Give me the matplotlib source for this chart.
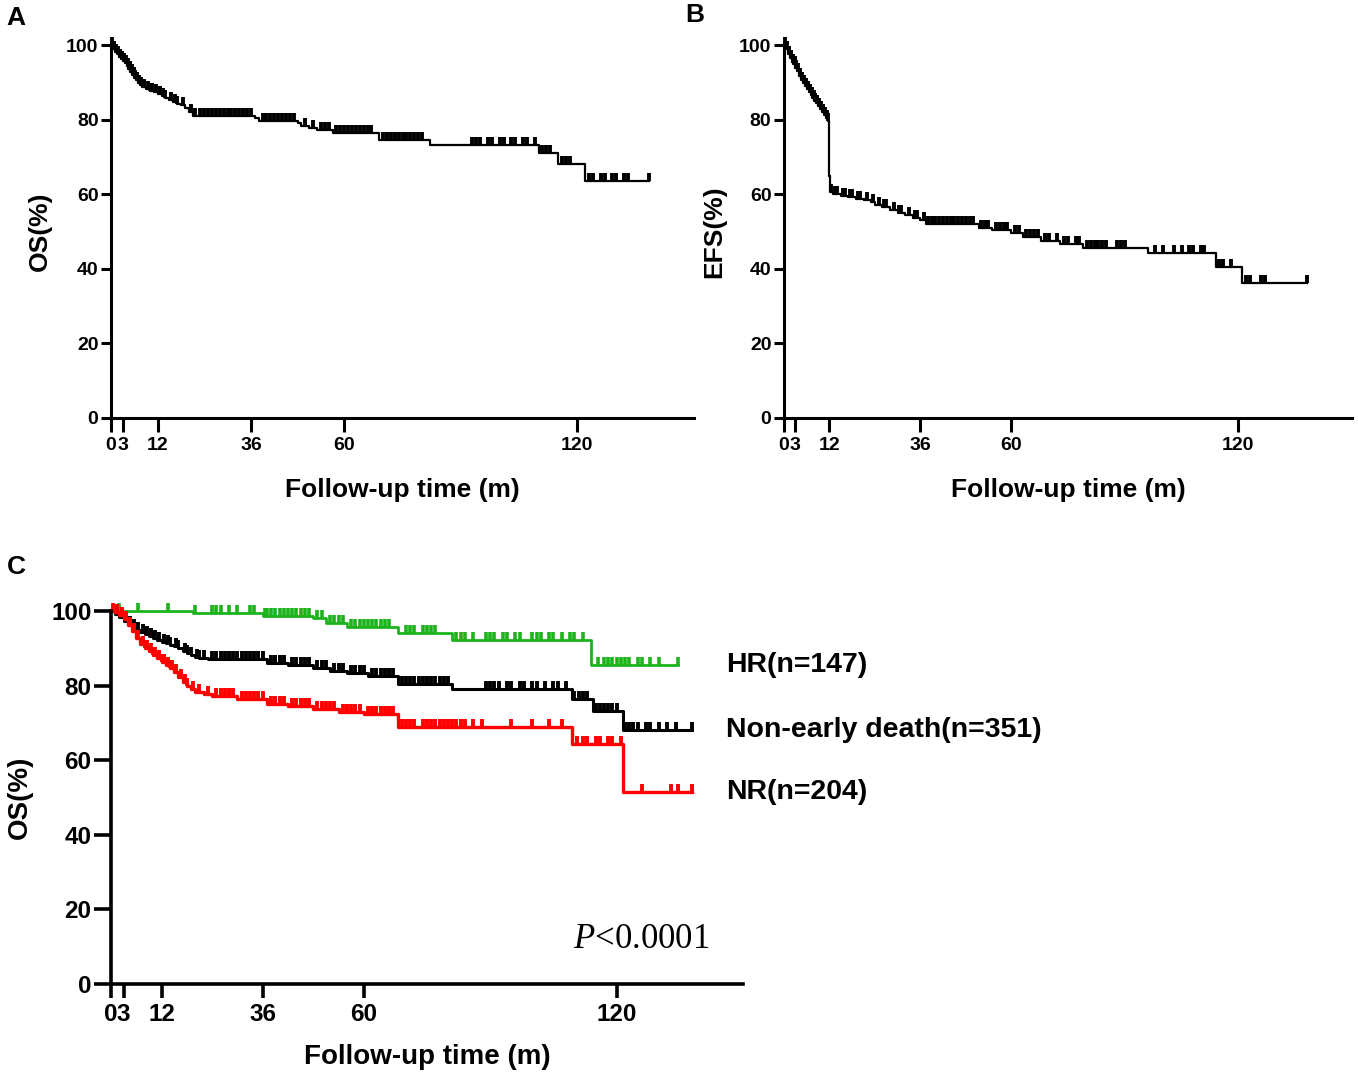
import numpy as np
import matplotlib
matplotlib.use("Agg")
import matplotlib.pyplot as plt
from matplotlib.path import Path

plt.rcParams["font.family"] = ["Liberation Sans", "DejaVu Sans"]
plt.rcParams["mathtext.fontset"] = "custom"
plt.rcParams["mathtext.it"] = "Liberation Serif:italic"
plt.rcParams["mathtext.rm"] = "Liberation Serif"

# ---- data (months, survival %) ----
x_ticks = [0, 3, 12, 36, 60, 120]
y_ticks = [0, 20, 40, 60, 80, 100]

# A: overall survival
os_t = [0, 0.5, 1, 1.5, 2, 2.5, 3, 3.5, 4, 4.5, 5, 5.5, 6, 6.5, 7, 7.5, 8, 9, 10, 11,
        12, 13, 14, 15, 16, 17, 18, 19, 20, 21, 37, 38, 48, 49, 51, 53, 57, 69, 82,
        110, 115, 122]
os_s = [100, 99.0, 98.2, 97.5, 96.9, 96.3, 95.7, 95.1, 94.4, 93.6, 92.8, 92.0, 91.2,
        90.5, 89.9, 89.3, 88.8, 88.3, 87.8, 87.3, 86.8, 86.3, 85.8, 85.3, 84.8, 84.3,
        83.8, 83.0, 82.0, 81.0, 80.3, 79.6, 79.0, 78.4, 77.8, 77.2, 76.4, 74.5, 73.3,
        71.0, 68.0, 63.5]
os_end = 138.5
os_cens = [0.3, 0.8, 1.3, 1.8, 2.3, 2.8, 3.3, 3.8, 4.3, 4.8, 5.3, 5.8, 6.3, 6.8, 7.3,
           7.8, 8.5, 9.5, 10, 10.5, 11.5, 12.5, 13.5, 14, 15.5, 16.5, 17, 18.5, 20.5,
           21.5, 23, 24, 25, 26, 27, 28, 29, 30, 31, 32, 33, 34, 35, 36,
           39, 40, 41, 42, 43, 44, 45, 46, 47, 50, 52, 54, 55, 56, 58, 59, 60, 61, 62,
           63, 64, 65, 66, 67, 70, 71, 72, 73, 74, 75, 76, 77, 78, 79, 80, 93, 94, 95,
           97, 98, 100, 101, 103, 104, 106, 107, 109, 111, 112, 113, 116, 117, 118,
           123, 124, 126, 127, 129, 130, 132, 133, 138.5]

# B: event-free survival
efs_t = [0, 0.5, 1, 1.5, 2, 2.5, 3, 3.5, 4, 4.5, 5, 5.5, 6, 6.5, 7, 7.5, 8, 8.5, 9,
         9.5, 10, 10.5, 11, 11.5, 11.9, 12.1, 13, 15, 17, 19, 21, 23, 24, 26, 28, 30,
         32, 34, 36, 37.5, 51.5, 55, 60, 63, 68, 73, 79, 96, 114, 121]
efs_s = [100, 98.8, 97.5, 96.5, 95.5, 94.8, 93.9, 92.9, 91.8, 90.7, 89.8, 89.0, 88.2,
         87.4, 86.6, 85.9, 85.1, 84.4, 83.6, 82.8, 82.0, 81.2, 80.4, 79.6, 65.0, 60.5,
         60.0, 59.6, 59.2, 58.8, 58.4, 58.0, 57.2, 56.5, 55.8, 55.0, 54.3, 53.6, 53.0,
         52.0, 51.0, 50.3, 49.6, 48.5, 47.5, 46.7, 45.6, 44.3, 40.5, 36.2]
efs_end = 138
efs_cens = [0.3, 0.8, 1.3, 1.8, 2.3, 2.8, 3.3, 3.8, 4.3, 4.8, 5.3, 5.8, 6.3, 6.8, 7.3,
            7.8, 8.3, 8.8, 9.3, 9.8, 10.3, 10.8, 11.3, 11.7,
            12.3, 13.5, 14, 15.5, 16, 17.5, 18, 19.5, 20, 22, 23.5, 25, 26.5, 27, 29,
            30.5, 31, 33, 34.5, 35, 37, 38, 39, 40, 41, 42, 43, 44, 45, 46, 47, 48, 49,
            50, 52, 53, 54, 56, 57, 58, 59, 61, 62, 64, 65, 66, 67, 69, 70, 72, 74, 75,
            77, 78, 80, 81, 82, 83, 84, 85, 88, 89, 90, 98, 100, 103, 105, 107, 108,
            110, 111, 115, 116, 118, 122, 123, 126, 127, 138]

# C: OS by group
hr_t = [0, 19.5, 36, 48, 51, 56, 68, 81, 114]
hr_s = [100, 99.5, 98.6, 98.0, 96.8, 95.7, 94.1, 92.2, 85.5]
hr_end = 134.5
hr_cens = [2, 6.5, 13.5, 20, 24, 25, 26, 28, 30, 33, 34, 36.5, 37, 38, 39, 40, 41, 42,
           43, 44, 45, 46, 47, 49, 50, 52, 53, 54, 55, 57, 58, 59, 60, 61, 62, 63, 64,
           65, 66, 70, 71, 72, 74, 75, 76, 77, 82, 83, 84, 86, 89, 90, 91, 93, 94, 96,
           97, 100, 101, 102, 104, 105, 107, 109, 110, 112, 115.5, 117, 118, 119, 120,
           121, 122, 123, 125, 126, 128, 130, 134.5]

ned_t = [0, 1, 2, 3, 4, 5, 6, 7, 8, 9, 10, 11, 12, 13, 14, 15, 16, 17, 18, 19, 20, 21,
         23, 37, 42, 48, 52, 56, 61, 68, 81, 109.5, 114.5, 121.5]
ned_s = [100, 99.2, 98.3, 97.4, 96.6, 95.8, 95.0, 94.4, 93.8, 93.3, 92.8, 92.3, 91.8,
         91.4, 91.0, 90.5, 90.0, 89.4, 88.8, 88.2, 87.7, 87.5, 87.1, 86.0, 85.5, 84.7,
         83.9, 83.3, 82.6, 80.5, 79.2, 76.5, 73.3, 68.0]
ned_end = 138
ned_cens = [1.5, 2.5, 3.5, 4.5, 5, 5.5, 6.5, 7.5, 8, 8.5, 9.5, 10, 10.5, 11.5, 12.5,
            13.5, 14, 15.5, 16, 17.5, 18, 19, 20.5, 21, 22, 24, 25, 26, 27, 28, 29, 30,
            31, 32, 33, 34, 35, 36, 38, 39, 40, 41, 43, 44, 45, 46, 47, 49, 50, 51, 53,
            54, 55, 57, 58, 59, 60, 62, 63, 64, 65, 66, 67, 69, 70, 71, 72, 73, 74, 75,
            76, 77, 78, 79, 80, 89, 90, 91, 92, 94, 95, 97, 98, 100, 101, 103, 105, 106,
            108, 110, 111, 112, 113, 115, 116, 117, 118, 119, 120, 122, 123, 124, 125,
            127, 128, 130, 132, 134, 138]

nr_t = [0, 1, 2, 3, 4, 5, 6, 7, 8, 9, 10, 11, 12, 13, 14, 15, 16, 17, 18, 19, 20, 22,
        24, 30, 37, 42, 48, 54, 60, 68, 109.5, 121.5]
nr_s = [100, 99.6, 99.0, 97.8, 96.3, 94.6, 92.8, 91.2, 90.0, 89.2, 88.2, 87.3, 86.4,
        85.6, 84.6, 83.6, 82.4, 81.0, 79.8, 79.0, 78.3, 77.8, 77.3, 76.5, 75.0, 74.6,
        73.8, 73.0, 72.3, 68.8, 64.3, 51.5]
nr_end = 138
nr_cens = [0.5, 1.5, 2.5, 3.5, 4.5, 5.5, 6.5, 7.5, 8, 8.5, 9.5, 10, 10.5, 11.5, 12,
           12.5, 13.5, 14, 14.5, 15.5, 16.5, 17.5, 18, 19.5, 21, 23, 25, 26, 27, 28,
           29, 31, 32, 33, 34, 35, 36, 38, 39, 40, 41, 43, 44, 45, 46, 47, 49, 50, 51,
           52, 53, 55, 56, 57, 58, 59, 61, 62, 63, 64, 65, 66, 67, 69, 70, 71, 72, 74,
           75, 76, 77, 78, 79, 80, 81, 82, 83, 84, 86, 88, 95, 100, 104, 107, 110.5,
           112, 113, 115, 116, 118, 119, 121, 126, 133, 134.5, 138]

groups = ["HR(n=147)", "Non-early death(n=351)", "NR(n=204)"]

# censor mark: vertical tick pointing up from the curve
TICK = Path([(0, 0), (0, 1)], [Path.MOVETO, Path.LINETO])


def km(ax, times, surv, end, cens, color, lw, ms, mew):
    ax.step(list(times) + [end], list(surv) + [surv[-1]], where="post",
            color=color, lw=lw, clip_on=False)
    idx = np.searchsorted(times, cens, side="right") - 1
    ax.plot(cens, np.array(surv)[idx], ls="none", marker=TICK, ms=ms, mew=mew,
            color=color, clip_on=False)


def style(ax, ylabel, tick_fs, lab_fs, w, ylen, xlen, xpad, ypad):
    for s in ["top", "right"]:
        ax.spines[s].set_visible(False)
    for s in ["left", "bottom"]:
        ax.spines[s].set_linewidth(w)
    ax.set_xlim(0, 150)
    ax.set_ylim(0, 100)
    ax.set_xticks(x_ticks)
    ax.set_xticklabels([str(v) for v in x_ticks])
    ax.set_yticks(y_ticks)
    ax.tick_params(axis="y", length=ylen, width=w, pad=2, labelsize=tick_fs)
    ax.tick_params(axis="x", length=xlen, width=w, pad=4, labelsize=tick_fs)
    for lab in ax.get_xticklabels() + ax.get_yticklabels():
        lab.set_fontweight("bold")
    ax.set_xlabel("Follow-up time (m)", fontsize=lab_fs, fontweight="bold", labelpad=xpad)
    ax.set_ylabel(ylabel, fontsize=lab_fs, fontweight="bold", labelpad=ypad)


fig = plt.figure(figsize=(13.58, 10.74), dpi=100)
W, H = 1358, 1074
axA = fig.add_axes([111 / W, 1 - 418 / H, 583 / W, 373 / H])
axB = fig.add_axes([784 / W, 1 - 418 / H, 568 / W, 373 / H])
axC = fig.add_axes([111 / W, 1 - 984 / H, 632 / W, 373 / H])

km(axA, os_t, os_s, os_end, os_cens, "black", 1.6, 11, 2.8)
style(axA, "OS(%)", 14, 19, 2.2, 7, 10, 17, 10)

km(axB, efs_t, efs_s, efs_end, efs_cens, "black", 1.6, 11, 2.8)
style(axB, "EFS(%)", 14, 19, 2.2, 7, 10, 17, 9)

km(axC, hr_t, hr_s, hr_end, hr_cens, "#1db31d", 2.0, 12, 2.6)
km(axC, ned_t, ned_s, ned_end, ned_cens, "black", 2.2, 12, 2.8)
km(axC, nr_t, nr_s, nr_end, nr_cens, "#ff0000", 2.4, 12, 2.8)
style(axC, "OS(%)", 17.5, 20, 2.6, 12, 10, 13, 13)

for name, s in zip(groups, [hr_s, ned_s, nr_s]):
    axC.text(146, s[-1], name, fontsize=20.5, fontweight="bold", ha="left",
             va="center", clip_on=False)
axC.text(142, 12, r"$P$<0.0001", fontsize=25, family="Liberation Serif",
         ha="right", va="center")

fig.text(16 / W, 1 - 18 / H, "A", fontsize=19, fontweight="bold", ha="center", va="center")
fig.text(695 / W, 1 - 15 / H, "B", fontsize=19, fontweight="bold", ha="center", va="center")
fig.text(16 / W, 1 - 567 / H, "C", fontsize=19, fontweight="bold", ha="center", va="center")

fig.savefig("out.png", dpi=100)
